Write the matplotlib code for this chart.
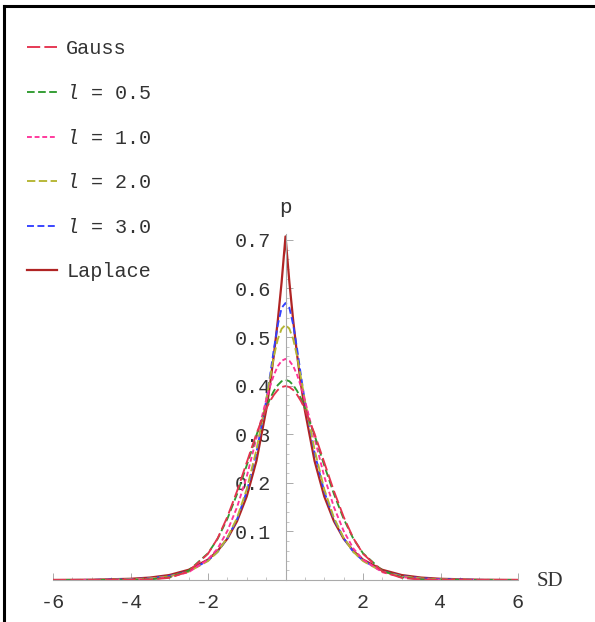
import numpy as np
import matplotlib
matplotlib.use("Agg")
import matplotlib.pyplot as plt
from matplotlib.ticker import MultipleLocator, FixedLocator
from matplotlib.lines import Line2D

plt.rcParams['lines.scale_dashes'] = False
plt.rcParams['mathtext.fontset'] = 'custom'
plt.rcParams['mathtext.it'] = 'Liberation Mono:italic'
plt.rcParams['mathtext.rm'] = 'Liberation Mono'

# half grid (x >= 0); curves are symmetric about 0
x_half = [0.0, 0.1, 0.2, 0.3, 0.4, 0.5, 0.75, 1.0, 1.25, 1.5, 1.75, 2.0, 2.5, 3.0, 3.5, 4.0, 5.0, 6.0]

gauss = [0.399, 0.397, 0.391, 0.381, 0.368, 0.352, 0.301, 0.242, 0.183, 0.130, 0.086, 0.054,
         0.0175, 0.0044, 0.0009, 0.0001, 0.0, 0.0]
l_05 = [0.412, 0.409, 0.401, 0.389, 0.373, 0.354, 0.298, 0.236, 0.177, 0.126, 0.085, 0.055,
        0.019, 0.0055, 0.0013, 0.0003, 0.0, 0.0]
l_10 = [0.455, 0.451, 0.440, 0.422, 0.398, 0.370, 0.292, 0.213, 0.150, 0.101, 0.065, 0.042,
        0.016, 0.006, 0.002, 0.0007, 0.0001, 0.0]
l_20 = [0.525, 0.517, 0.495, 0.460, 0.415, 0.370, 0.268, 0.187, 0.128, 0.087, 0.058, 0.039,
        0.017, 0.0075, 0.0032, 0.0013, 0.0002, 0.0]
l_30 = [0.570, 0.560, 0.525, 0.475, 0.420, 0.368, 0.262, 0.182, 0.125, 0.086, 0.058, 0.040,
        0.018, 0.0082, 0.0037, 0.0016, 0.0003, 0.0]
laplace = [0.707, 0.613, 0.533, 0.463, 0.402, 0.349, 0.245, 0.172, 0.121, 0.085, 0.060, 0.042,
           0.021, 0.0102, 0.0050, 0.0025, 0.0006, 0.00015]

labels = ["Gauss", r"$\mathit{l}$ = 0.5", r"$\mathit{l}$ = 1.0", r"$\mathit{l}$ = 2.0",
          r"$\mathit{l}$ = 3.0", "Laplace"]
x_ticks = [-6, -4, -2, 2, 4, 6]
y_ticks = [0.1, 0.2, 0.3, 0.4, 0.5, 0.6, 0.7]


def full(vals):
    xs = np.array(x_half)
    v = np.array(vals)
    return np.concatenate([-xs[:0:-1], xs]), np.concatenate([v[:0:-1], v])


fig = plt.figure(figsize=(5.95, 6.22), dpi=100)
ax = fig.add_axes([53 / 595, 1 - 580 / 622, 465 / 595, (580 - 234) / 622])
ax.set_xlim(-6, 6)
ax.set_ylim(0, 0.712)

styles = [
    dict(color="#e5334f", lw=1.35, dashes=(9.5, 3)),
    dict(color="#2e9a2e", lw=1.35, dashes=(5.5, 2.5)),
    dict(color="#ff3399", lw=1.35, dashes=(3.5, 2.0)),
    dict(color="#b5b532", lw=1.35, dashes=(6.0, 2.5)),
    dict(color="#3340ff", lw=1.35, dashes=(5.0, 2.5)),
    dict(color="#b02424", lw=1.6),
]
series = [gauss, l_05, l_10, l_20, l_30, laplace]
handles = [None] * 6
for i in [5, 4, 3, 2, 1, 0]:
    xs, ys = full(series[i])
    ln, = ax.plot(xs, ys, label=labels[i], **styles[i])
    handles[i] = ln

# Mathematica style axes crossing at origin
for s in ["top", "right"]:
    ax.spines[s].set_visible(False)
ax.spines["left"].set_position(("data", 0))
ax.spines["bottom"].set_position(("data", 0))
for s in ["left", "bottom"]:
    ax.spines[s].set_color("#aaaaaa")
    ax.spines[s].set_linewidth(0.8)

mono = "Liberation Mono"
ax.xaxis.set_major_locator(FixedLocator(x_ticks))
ax.yaxis.set_major_locator(FixedLocator(y_ticks))
ax.xaxis.set_minor_locator(MultipleLocator(0.5))
ax.yaxis.set_minor_locator(MultipleLocator(0.02))
ax.set_xticklabels([str(t) for t in x_ticks], fontfamily=mono, fontsize=14.5, color="#333333")
ax.set_yticklabels([f"{t:.1f}" for t in y_ticks], fontfamily=mono, fontsize=14.5, color="#333333")
ax.tick_params(axis="both", which="major", direction="in", length=5, width=0.7, color="#aaaaaa")
ax.tick_params(axis="both", which="minor", direction="in", length=2.5, width=0.6, color="#bbbbbb")
ax.tick_params(axis="x", which="major", pad=9)
ax.tick_params(axis="y", which="major", pad=10)

ax.text(6.49, -0.004, "SD", fontfamily="Liberation Serif", fontsize=15, color="#333333",
        ha="left", va="center", transform=ax.transData, clip_on=False)
ax.text(0, 0.767, "p", fontfamily=mono, fontsize=15, color="#333333",
        ha="center", va="center", clip_on=False)

fig.legend(handles=handles, labels=labels, loc="upper left",
           bbox_to_anchor=(27 / 595, 1 - 39.5 / 622), frameon=False, borderpad=0,
           borderaxespad=0, handlelength=1.5, handletextpad=0.45, labelspacing=1.27,
           prop=dict(family=mono, size=14.5), labelcolor="#333333")

# figure border (left and top only)
fig.add_artist(Line2D([4 / 595, 4 / 595], [0, 1 - 6 / 622], color="black", lw=2.2,
                      transform=fig.transFigure))
fig.add_artist(Line2D([4 / 595, 1], [1 - 6 / 622, 1 - 6 / 622], color="black", lw=2.2,
                      transform=fig.transFigure))

fig.savefig("out.png", dpi=100)
